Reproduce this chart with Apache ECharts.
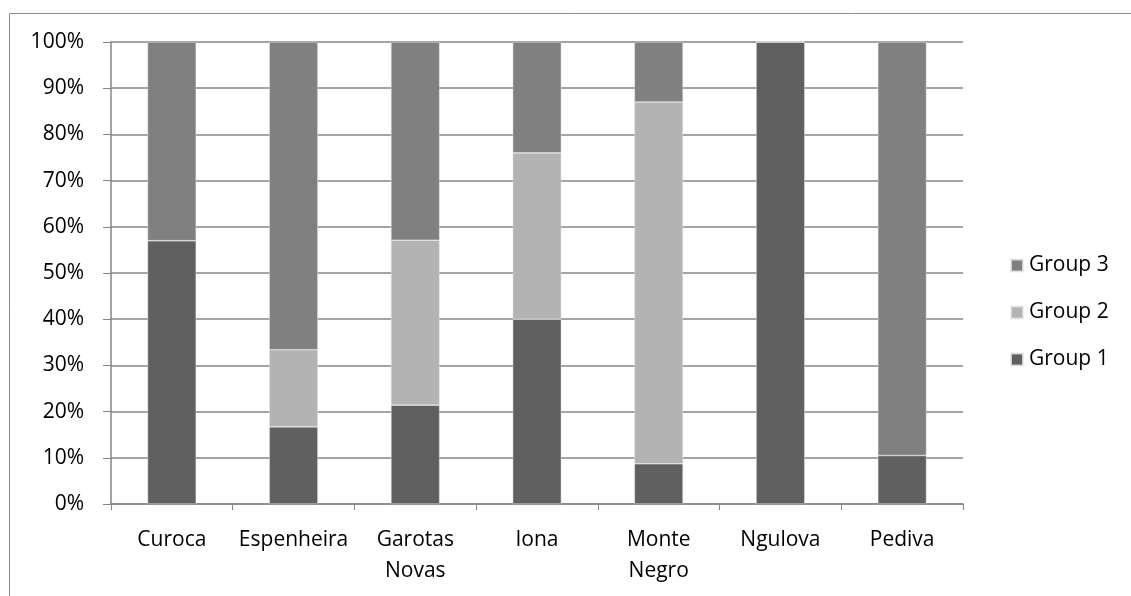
<!DOCTYPE html>
<html>
<head>
<meta charset="utf-8">
<script src="https://cdn.jsdelivr.net/npm/echarts@6/dist/echarts.min.js"></script>
<style>
html,body{margin:0;padding:0;background:#fff;}
#c{width:1131px;height:596px;}
</style>
</head>
<body>
<div id="c"></div>
<script>
const categories = ['Curoca', 'Espenheira', 'Garotas Novas', 'Iona', 'Monte Negro', 'Ngulova', 'Pediva'];
const group1 = [57.0, 16.7, 21.4, 40.0, 8.7, 100, 10.5];
const group2 = [0, 16.7, 35.7, 36.0, 78.3, 0, 0];
const group3 = [43.0, 66.6, 42.9, 24.0, 13.0, 0, 89.5];
const yTicks = [0, 10, 20, 30, 40, 50, 60, 70, 80, 90, 100];

const chart = echarts.init(document.getElementById('c'), null, {renderer: 'canvas'});
const font = 'Open Sans, Liberation Sans, sans-serif';
const mk = (name, data, color) => ({
  name, type: 'bar', stack: 'total', data,
  barWidth: '40%',
  itemStyle: {color, borderColor: 'rgba(230,230,230,0.8)', borderWidth: 0.6},
  emphasis: {disabled: true}
});
chart.setOption({
  animation: false,
  backgroundColor: '#fff',
  graphic: [{
    type: 'rect', shape: {x: 9.5, y: 13.5, width: 1200, height: 700},
    style: {fill: 'none', stroke: '#8c8c8c', lineWidth: 1}, silent: true, z: -1
  }],
  grid: {left: 111, right: 168, top: 42, bottom: 92},
  legend: {
    orient: 'vertical', left: 1005, top: 250,
    data: ['Group 3', 'Group 2', 'Group 1'],
    itemWidth: 12, itemHeight: 12, itemGap: 26,
    icon: 'rect',
    textStyle: {fontFamily: font, fontSize: 21, color: '#000', padding: [0, 0, 0, 1]}
  },
  xAxis: {
    type: 'category', data: categories,
    axisLine: {lineStyle: {color: '#868686', width: 1.5}},
    axisTick: {show: true, length: 6, lineStyle: {color: '#868686'}},
    axisLabel: {
      interval: 0, margin: 21, color: '#000', fontFamily: font, fontSize: 21, lineHeight: 31,
      formatter: v => v.replace(' ', '\n')
    }
  },
  yAxis: {
    type: 'value', min: 0, max: 100, interval: 10,
    axisLine: {show: true, lineStyle: {color: '#868686', width: 1.5}},
    axisTick: {show: true, length: 8, lineStyle: {color: '#868686'}},
    splitLine: {lineStyle: {color: '#868686', width: 1.5}},
    axisLabel: {
      margin: 27, color: '#000', fontFamily: font, fontSize: 21,
      formatter: v => yTicks.includes(v) ? v + '%' : ''
    }
  },
  series: [
    mk('Group 1', group1, '#606060'),
    mk('Group 2', group2, '#b3b3b3'),
    mk('Group 3', group3, '#808080')
  ]
});
</script>
</body>
</html>
